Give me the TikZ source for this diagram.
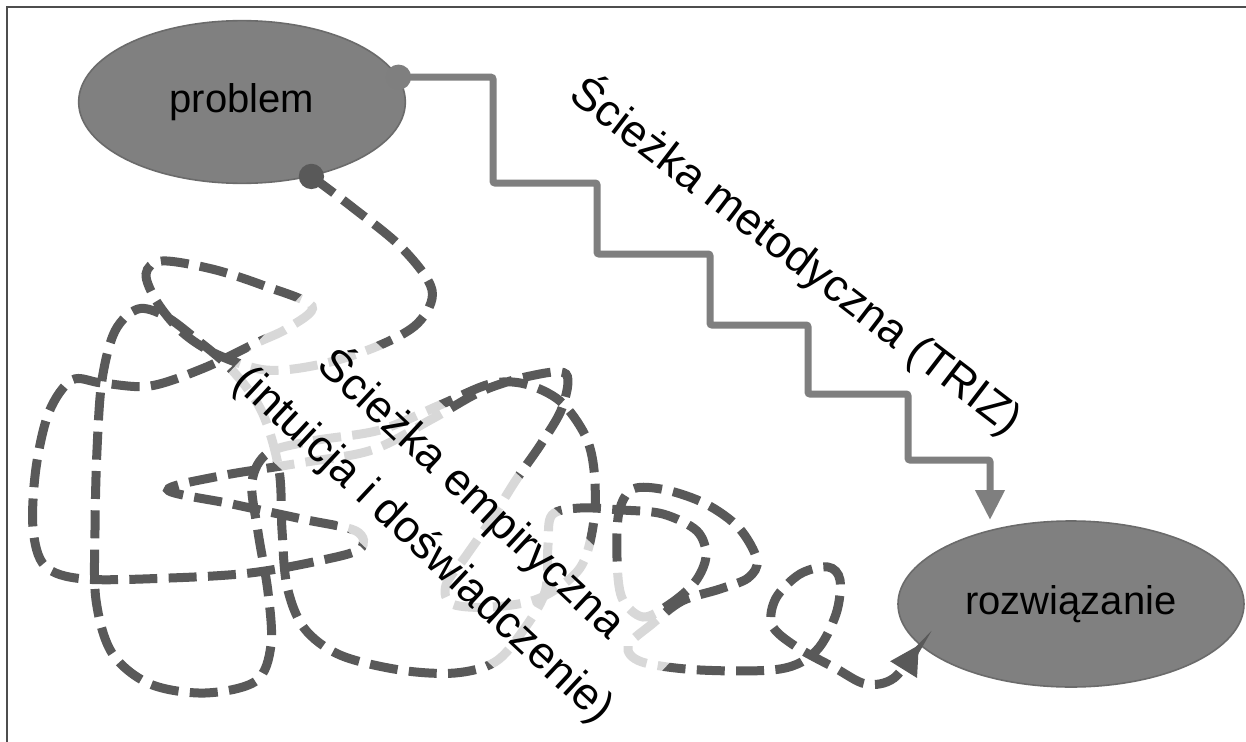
\documentclass[tikz,border=0pt]{standalone}
\usepackage{fontspec}
\setmainfont{Liberation Sans}
\usetikzlibrary{shapes.geometric,arrows.meta}
\definecolor{ellfill}{HTML}{808080}
\definecolor{elldraw}{HTML}{6B6B6B}
\definecolor{stairc}{HTML}{7F7F7F}
\definecolor{scrib}{HTML}{595959}
\definecolor{framec}{HTML}{4D4D4D}
\begin{document}
\begin{tikzpicture}[x=0.75pt,y=-0.75pt,
  ell/.style={ellipse, fill=ellfill, draw=elldraw, line width=1.2pt, inner sep=0pt, font=\fontsize{30pt}{36pt}\selectfont},
  stair/.style={draw=stairc, line width=5.25pt, rounded corners=1.5pt},
  scribble/.style={draw=scrib, line width=6.75pt, dash pattern=on 21pt off 8.5pt},
  lbl/.style={font=\fontsize{33.75pt}{52pt}\selectfont, align=center, inner sep=0pt},
  dotc/.style={circle, inner sep=0pt, minimum size=19pt}]
\useasboundingbox (0,0) rectangle (1246,742);
\fill[white] (0,0) rectangle (1246,742);
\draw[framec, line width=1.5pt] (7,742) -- (7,7) -- (1246,7);

\node[ell, minimum width=245pt, minimum height=122pt] (prob) at (242,102) {problem};
\node[ell, minimum width=259.5pt, minimum height=124.5pt] (rozw) at (1071,604) {rozwiązanie};

% methodical path (stairs)
\coordinate (sd) at (prob.9);
\coordinate (st) at (990,520);
\draw[stair, -{Triangle[width=21pt,length=22.5pt]}] (sd) -| (493,183) -| (597,254) -| (710,325) -| (808,394) -| (908,460) -| (st);
\node[dotc, fill=stairc] (sdot) at (sd) {};

% empirical path (scribble)
\coordinate (ed) at (prob.-47);
\draw[scribble, -{Triangle[width=22pt,length=22pt]}] plot[smooth, tension=0.55] coordinates {
(ed) (352,207) (402,248) (432,290) (418,323) (378,346) (322,364) (266,370)
(216,354) (182,332) (157,302) (146,274) (162,261) (212,269) (262,285) (312,306)
(288,328) (254,344) (204,368) (150,386) (102,383) (72,380) (49,412) (36,468)
(33,528) (45,566) (84,579) (170,578) (250,573) (318,561) (360,549) (356,531)
(302,519) (232,504) (168,490) (220,476) (300,463) (372,450) (432,419) (482,391)
(530,376) (566,374) (562,408) (541,444) (516,480) (491,520) (466,556) (446,585)
(452,604) (492,607) (540,598) (580,568) (594,520) (594,470) (585,435) (560,401)
(525,384) (490,384) (440,405) (380,430) (312,441) (268,453) (252,482) (258,532)
(268,592) (271,645) (256,681) (205,693) (150,684) (112,653) (96,600) (95,530)
(97,450) (102,380) (115,331) (138,309) (165,316) (196,339) (232,370) (262,412)
(279,470) (282,530) (287,586) (304,628) (340,655) (400,670) (455,673) (495,662)
(522,632) (545,592) (548,545) (552,515) (580,508) (622,510) (663,514) (697,531)
(706,556) (695,582) (670,604) (643,617) (622,598) (617,558) (619,512) (633,489)
(666,490) (706,504) (739,528) (757,560) (748,578) (720,589) (682,601) (652,624)
(628,646) (642,662) (700,670) (780,669) (816,651) (836,614) (840,580) (828,567)
(800,574) (776,598) (772,625) (795,646) (835,668) (866,684) (894,678) (rozw.195)};
\node[dotc, fill=scrib] (edot) at (ed) {};

% labels
\node[lbl, rotate=-43, fill=white, fill opacity=0.77, text opacity=1,
      minimum width=390pt, minimum height=118pt] (emp) at (449,518)
      {Ścieżka empiryczna\\(intuicja i doświadczenie)};
\node[lbl, rotate=-37.5] (triz) at (797,255) {Ścieżka metodyczna (TRIZ)};
\end{tikzpicture}
\end{document}
